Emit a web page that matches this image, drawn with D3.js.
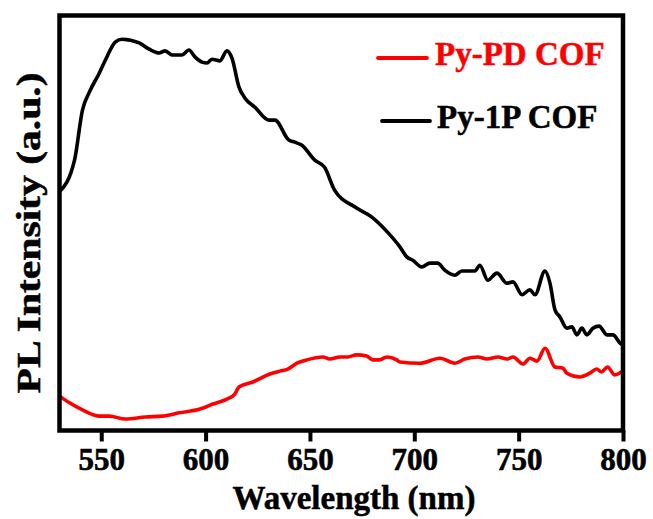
<!DOCTYPE html>
<html>
<head>
<meta charset="utf-8">
<script src="https://cdn.jsdelivr.net/npm/d3@7"></script>
<style>
  html, body { margin: 0; padding: 0; background: #fff; }
  svg text { font-family: "Liberation Serif", "Times New Roman", serif; font-weight: bold; }
</style>
</head>
<body>
<div id="chart"></div>
<script>
// PL spectra, wavelength in nm, intensity in arbitrary units (0-1000)
const py1pWavelength = [530, 537.2, 541, 544.3, 549.1, 552, 556.7, 560, 568.2, 573, 577.8, 580.6, 584, 588.7, 592, 595, 598.3, 600.7, 603, 606.9, 610.2, 612.6, 616, 618.8, 623.6, 630.3, 633.2, 639.9, 642.7, 646, 652.3, 657, 661.8, 671.4, 679.5, 687.6, 693.1, 696.4, 699.3, 703.6, 707.4, 711.2, 714.6, 719.4, 722.7, 726.6, 729, 731.4, 735.2, 739.6, 744.4, 747.3, 751.6, 755.4, 757.8, 762.6, 765, 767.4, 769.8, 773.1, 775.5, 777.9, 780.3, 782.7, 785.6, 788.5, 792.4, 795.2, 798.6, 800];
const py1pIntensity = [576, 652, 772, 815, 861, 892, 935, 942, 933, 918, 909, 914, 904, 904, 916, 899, 887, 885, 894, 890, 914, 897, 827, 801, 779, 748, 748, 700, 695, 688, 652, 635, 580, 540, 516, 477, 444, 420, 412, 396, 405, 405, 388, 376, 386, 386, 386, 400, 364, 381, 357, 360, 329, 341, 329, 386, 357, 293, 276, 249, 252, 233, 249, 233, 249, 254, 233, 233, 213, 208];

const pypdWavelength = [530, 534.8, 541, 549.1, 553.9, 561.5, 571.1, 579.2, 587.3, 597.3, 603.5, 610.2, 614, 616, 622.6, 630.8, 635.6, 639.4, 643.8, 648.5, 656.2, 659.5, 664.3, 668.1, 672.4, 677.2, 680.1, 683.4, 686.8, 691.6, 693.1, 702.7, 712.3, 719.4, 724.2, 730.5, 734.8, 740.1, 744.4, 747.3, 752.1, 755.4, 758.8, 762.6, 767.4, 771.2, 773.1, 779.3, 784.1, 787.4, 789.7, 792.6, 796, 799.3, 800];
const pypdIntensity = [86, 70, 53, 38, 38, 31, 36, 38, 46, 55, 67, 79, 91, 108, 120, 139, 146, 151, 165, 173, 180, 175, 180, 180, 185, 182, 173, 173, 180, 173, 168, 165, 177, 165, 175, 180, 175, 180, 175, 180, 163, 177, 170, 201, 156, 153, 141, 132, 141, 151, 144, 156, 137, 144, 146];

const xTicks = [550, 600, 650, 700, 750, 800];
const seriesNames = ["Py-PD COF", "Py-1P COF"];
const seriesColors = ["#ff0000", "#000000"];

const chartWidth = 653, chartHeight = 519;
const plotLeft = 59.5, plotRight = 623, plotTop = 15.5, plotBottom = 430.5;

const svg = d3.select("#chart").append("svg")
    .attr("width", chartWidth)
    .attr("height", chartHeight);

const x = d3.scaleLinear().domain([530, 800]).range([plotLeft, plotRight]);
const y = d3.scaleLinear().domain([0, 1000]).range([432, 15]);

const line = d3.line()
    .x(d => x(d[0]))
    .y(d => y(d[1]))
    .curve(d3.curveMonotoneX);

const pypd = pypdWavelength.map((w, i) => [w, pypdIntensity[i]]);
const py1p = py1pWavelength.map((w, i) => [w, py1pIntensity[i]]);

svg.append("path")
    .datum(pypd)
    .attr("fill", "none")
    .attr("stroke", seriesColors[0])
    .attr("stroke-width", 3.6)
    .attr("stroke-linejoin", "round")
    .attr("d", line);

svg.append("path")
    .datum(py1p)
    .attr("fill", "none")
    .attr("stroke", seriesColors[1])
    .attr("stroke-width", 3.6)
    .attr("stroke-linejoin", "round")
    .attr("d", line);

// frame
svg.append("rect")
    .attr("x", plotLeft)
    .attr("y", plotTop)
    .attr("width", plotRight - plotLeft)
    .attr("height", plotBottom - plotTop)
    .attr("fill", "none")
    .attr("stroke", "#000")
    .attr("stroke-width", 4.5);

// bottom axis
const xAxis = svg.append("g")
    .attr("transform", `translate(0,${plotBottom})`)
    .call(d3.axisBottom(x).tickValues(xTicks).tickSize(11).tickSizeOuter(0).tickPadding(6));
xAxis.select(".domain").remove();
xAxis.selectAll(".tick line").attr("stroke", "#000").attr("stroke-width", 4);
xAxis.selectAll(".tick text")
    .attr("fill", "#000")
    .attr("stroke", "#000")
    .attr("stroke-width", 0.6)
    .style("font-size", "31px")
    .attr("dy", null)
    .attr("y", 39);

// axis titles
svg.append("text")
    .attr("x", 354)
    .attr("y", 509)
    .attr("text-anchor", "middle")
    .attr("stroke", "#000")
    .attr("stroke-width", 0.5)
    .style("font-size", "33px")
    .text("Wavelength (nm)");

svg.append("text")
    .attr("transform", "translate(40,233) rotate(-90)")
    .attr("text-anchor", "middle")
    .attr("textLength", 321)
    .attr("lengthAdjust", "spacingAndGlyphs")
    .attr("stroke", "#000")
    .attr("stroke-width", 0.5)
    .style("font-size", "34px")
    .text("PL Intensity (a.u.)");

// legend
const legendRows = [
    { x1: 378, x2: 427, y: 58, tx: 435, ty: 65 },
    { x1: 382, x2: 430, y: 121, tx: 437, ty: 128 }
];
legendRows.forEach((r, i) => {
    svg.append("line")
        .attr("x1", r.x1).attr("x2", r.x2)
        .attr("y1", r.y).attr("y2", r.y)
        .attr("stroke", seriesColors[i])
        .attr("stroke-width", 3.8)
        .attr("stroke-linecap", "round");
    svg.append("text")
        .attr("x", r.tx)
        .attr("y", r.ty)
        .attr("fill", seriesColors[i])
        .attr("stroke", seriesColors[i])
        .attr("stroke-width", 0.5)
        .style("font-size", "33px")
        .text(seriesNames[i]);
});
</script>
</body>
</html>
